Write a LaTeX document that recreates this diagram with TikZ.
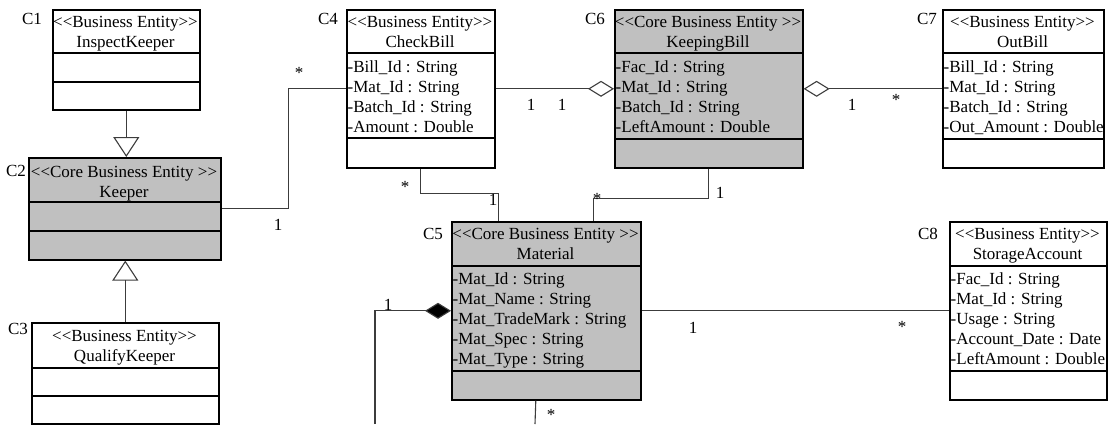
\documentclass[tikz,border=0pt]{standalone}
\usepackage{fontspec}
\setmainfont{Liberation Serif}[Ligatures=TeXOff]
\newfontfamily\tnr{Liberation Serif}[Ligatures=TeXOff]
\usetikzlibrary{arrows.meta}
\definecolor{core}{RGB}{192,192,192}
\definecolor{conn}{RGB}{60,60,60}
\tikzset{
  cls/.style={draw=black, line width=1.6pt, inner sep=0pt, anchor=north west},
  sep/.style={draw=black, line width=1.6pt},
  txt/.style={inner sep=0pt, font=\tnr\fontsize{17}{20}\selectfont},
  conline/.style={draw=conn, line width=1.1pt},
  gen/.style={conline, -{Triangle[open, length=20pt, width=26pt, line width=1.1pt]}},
  agg/.style={conline, -{Diamond[open, length=26pt, width=16pt, line width=1.1pt]}},
  comp/.style={conline, -{Diamond[fill=black, length=26pt, width=16pt]}}
}
\newcommand\hdr[5]{%
  \node[txt,anchor=base] (#1a) at (#2,#3) {#4};
  \node[txt,anchor=base] (#1b) at (#2,#3+20) {#5};}
\newcommand\attr[4]{\node[txt,anchor=base west] (#1) at (#2,#3) {#4};}
\newcommand\lbl[4]{\node[txt,anchor=base] (#1) at (#2,#3) {#4};}
\begin{document}
\begin{tikzpicture}[x=1pt,y=-1pt]
\useasboundingbox (0,0) rectangle (1111,424);

% ---------- C1 InspectKeeper
\node[cls, minimum width=147pt, minimum height=100pt] (c1) at (52,9) {};
\draw[sep] (52,53) -- (199,53);
\draw[sep] (52,82) -- (199,82);
\hdr{c1h}{125.5}{27}{<<Business Entity>>}{InspectKeeper}
\lbl{c1l}{32}{24}{C1}

% ---------- C2 Keeper
\node[cls, fill=core, minimum width=192pt, minimum height=102pt] (c2) at (28,157) {};
\draw[sep] (28,202) -- (220,202);
\draw[sep] (28,231) -- (220,231);
\hdr{c2h}{124}{177}{<<Core Business Entity >>}{Keeper}
\lbl{c2l}{16}{176}{C2}

% ---------- C3 QualifyKeeper
\node[cls, minimum width=187pt, minimum height=101pt] (c3) at (31,322) {};
\draw[sep] (31,368) -- (218,368);
\draw[sep] (31,396) -- (218,396);
\hdr{c3h}{124.5}{341}{<<Business Entity>>}{QualifyKeeper}
\lbl{c3l}{18}{334}{C3}

% ---------- C4 CheckBill
\node[cls, minimum width=148pt, minimum height=158pt] (c4) at (346,9) {};
\draw[sep] (346,53) -- (494,53);
\draw[sep] (346,138) -- (494,138);
\hdr{c4h}{420}{27}{<<Business Entity>>}{CheckBill}
\attr{c4a1}{347.5}{72}{-Bill\_Id : String}
\attr{c4a2}{347.5}{92}{-Mat\_Id : String}
\attr{c4a3}{347.5}{112}{-Batch\_Id : String}
\attr{c4a4}{347.5}{132}{-Amount : Double}
\lbl{c4l}{328}{24}{C4}

% ---------- C6 KeepingBill
\node[cls, fill=core, minimum width=188pt, minimum height=158pt] (c6) at (614,9) {};
\draw[sep] (614,53) -- (802,53);
\draw[sep] (614,139) -- (802,139);
\hdr{c6h}{708}{27}{<<Core Business Entity >>}{KeepingBill}
\attr{c6a1}{615.5}{72}{-Fac\_Id : String}
\attr{c6a2}{615.5}{92}{-Mat\_Id : String}
\attr{c6a3}{615.5}{112}{-Batch\_Id : String}
\attr{c6a4}{615.5}{132}{-LeftAmount : Double}
\lbl{c6l}{595}{24}{C6}

% ---------- C7 OutBill
\node[cls, minimum width=161pt, minimum height=158pt] (c7) at (942,9) {};
\draw[sep] (942,53) -- (1103,53);
\draw[sep] (942,139) -- (1103,139);
\hdr{c7h}{1022.5}{27}{<<Business Entity>>}{OutBill}
\attr{c7a1}{943.5}{72}{-Bill\_Id : String}
\attr{c7a2}{943.5}{92}{-Mat\_Id : String}
\attr{c7a3}{943.5}{112}{-Batch\_Id : String}
\attr{c7a4}{943.5}{132}{-Out\_Amount : Double}
\lbl{c7l}{927}{24}{C7}

% ---------- C5 Material
\node[cls, fill=core, minimum width=189pt, minimum height=178pt] (c5) at (451,221) {};
\draw[sep] (451,266) -- (640,266);
\draw[sep] (451,371) -- (640,371);
\hdr{c5h}{545.5}{239}{<<Core Business Entity >>}{Material}
\attr{c5a1}{452.5}{284}{-Mat\_Id : String}
\attr{c5a2}{452.5}{304}{-Mat\_Name : String}
\attr{c5a3}{452.5}{324}{-Mat\_TradeMark : String}
\attr{c5a4}{452.5}{344}{-Mat\_Spec : String}
\attr{c5a5}{452.5}{364}{-Mat\_Type : String}
\lbl{c5l}{433}{239}{C5}

% ---------- C8 StorageAccount
\node[cls, minimum width=157pt, minimum height=178pt] (c8) at (949,221) {};
\draw[sep] (949,266) -- (1106,266);
\draw[sep] (949,371) -- (1106,371);
\hdr{c8h}{1027.5}{239}{<<Business Entity>>}{StorageAccount}
\attr{c8a1}{950.5}{284}{-Fac\_Id : String}
\attr{c8a2}{950.5}{304}{-Mat\_Id : String}
\attr{c8a3}{950.5}{324}{-Usage : String}
\attr{c8a4}{950.5}{344}{-Account\_Date : Date}
\attr{c8a5}{950.5}{364}{-LeftAmount : Double}
\lbl{c8l}{928}{239}{C8}

% ---------- connectors
\draw[gen] (c1.south) -- (c1.south |- c2.north);
\draw[gen] (c3.north) -- (c3.north |- c2.south);
\draw[conline] (c2.east) -- ++(67,0) |- (c4.west);
\draw[agg] (c4.east) -- (c6.west);
\draw[agg] (c7.west) -- (c6.east);
\draw[conline] (c4.south) -- ++(0,25) -| ([xshift=-47.5pt]c5.north);
\draw[conline] (c6.south) -- ++(0,30) -| ([xshift=47.5pt]c5.north);
\draw[conline] (c5.east) -- (c8.west);
\coordinate (b1) at (375,424);
\coordinate (b2) at (535,424);
\draw[comp] (b1) |- (c5.west);
\draw[conline] ([xshift=-10.5pt]c5.south) -- (b2);

% ---------- multiplicities
\lbl{m1}{299}{78}{*}
\lbl{m2}{278}{230}{1}
\lbl{m3}{531}{110}{1}
\lbl{m4}{562}{110}{1}
\lbl{m5}{852}{110}{1}
\lbl{m6}{896}{105}{*}
\lbl{m7}{405}{192}{*}
\lbl{m8}{493}{205}{1}
\lbl{m9}{720}{198}{1}
\lbl{m10}{597}{204}{*}
\lbl{m11}{693}{333}{1}
\lbl{m12}{902}{332}{*}
\lbl{m13}{388}{310}{1}
\lbl{m14}{551}{420}{*}
\end{tikzpicture}
\end{document}
